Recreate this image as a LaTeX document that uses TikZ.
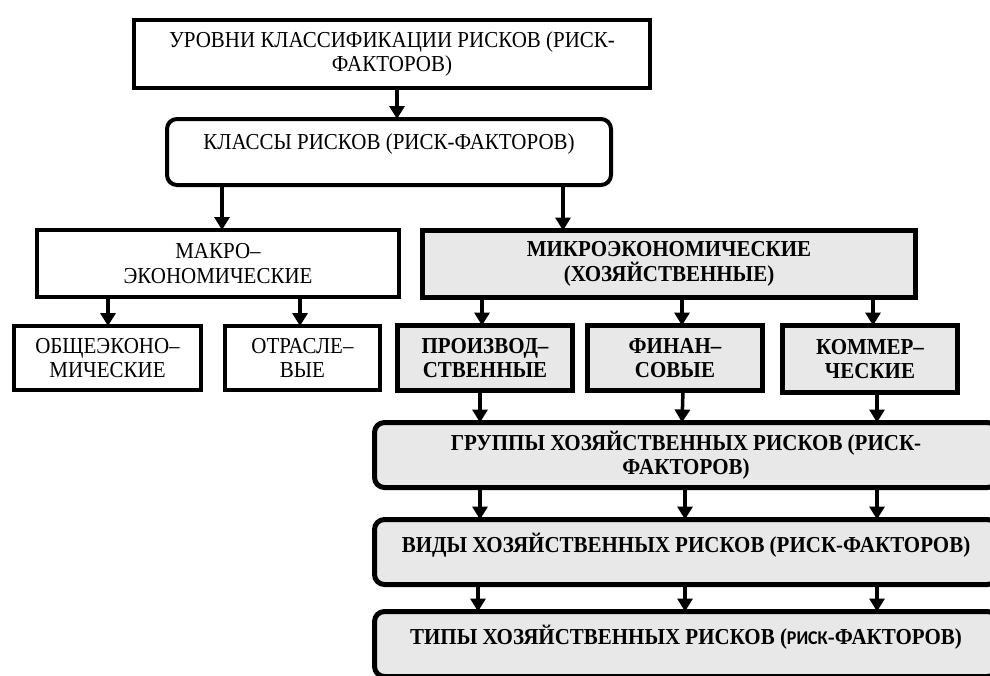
\documentclass[tikz,border=0pt]{standalone}
\usepackage{fontspec}
\setmainfont{Liberation Serif}[FakeStretch=0.92]
\newfontfamily\sansb{Carlito}[FakeStretch=0.92]
\usetikzlibrary{arrows.meta}
\definecolor{lightg}{RGB}{232,232,232}
\newcommand{\fsz}{\fontsize{22.8}{24.5}\selectfont}
\tikzset{
  box/.style={draw, line width=4pt, inner sep=0pt, outer sep=0pt, align=center, font=\fsz},
  gbox/.style={box, line width=5pt, fill=lightg, font=\fsz\bfseries},
  rbox/.style={rounded corners=10pt},
  arr/.style={line width=3.5pt, -{Triangle[length=13pt,width=15pt]}},
}
\begin{document}
\begin{tikzpicture}[x=1pt,y=-1pt]
\useasboundingbox (0,0) rectangle (990,675);
\clip (0,0) rectangle (990,675);
\fill[white] (0,0) rectangle (990,675);

\node[box, minimum width=516pt, minimum height=68pt] (b1) at (392,54)
  {УРОВНИ КЛАССИФИКАЦИИ РИСКОВ (РИСК-\\ФАКТОРОВ)};
\node[box, rbox, minimum width=444pt, minimum height=66pt, text height=16pt, text depth=22pt] (b2) at (389,152)
  {КЛАССЫ РИСКОВ (РИСК-ФАКТОРОВ)};
\node[box, minimum width=362pt, minimum height=67pt] (mak) at (218,263.5)
  {МАКРО–\\ЭКОНОМИЧЕСКИЕ};
\node[gbox, minimum width=493pt, minimum height=67pt] (mik) at (669,264)
  {МИКРОЭКОНОМИЧЕСКИЕ\\(ХОЗЯЙСТВЕННЫЕ)};
\node[box, minimum width=187pt, minimum height=64pt] (b5) at (107.5,358)
  {ОБЩЕЭКОНО–\\МИЧЕСКИЕ};
\node[box, minimum width=155pt, minimum height=64pt] (b6) at (302.5,358)
  {ОТРАСЛЕ–\\ВЫЕ};
\node[gbox, minimum width=175pt, minimum height=65pt] (p1) at (485,358)
  {ПРОИЗВОД–\\СТВЕННЫЕ};
\node[gbox, minimum width=175pt, minimum height=65pt] (f1) at (675,358)
  {ФИНАН–\\СОВЫЕ};
\node[gbox, minimum width=175pt, minimum height=67pt] (k1) at (870,359)
  {КОММЕР–\\ЧЕСКИЕ};
\node[gbox, rbox, minimum width=623pt, minimum height=65pt] (grp) at (686,455)
  {ГРУППЫ ХОЗЯЙСТВЕННЫХ РИСКОВ (РИСК-\\ФАКТОРОВ)};
\node[gbox, rbox, minimum width=623pt, minimum height=65pt, text height=16pt, text depth=16pt] (vid) at (686,552)
  {ВИДЫ ХОЗЯЙСТВЕННЫХ РИСКОВ (РИСК-ФАКТОРОВ)};
\node[gbox, rbox, minimum width=623pt, minimum height=65pt, text height=16pt, text depth=16pt] (tip) at (686,644)
  {ТИПЫ ХОЗЯЙСТВЕННЫХ РИСКОВ ({\sansb\fontsize{19.5}{20}\selectfont РИСК}-ФАКТОРОВ)};

\draw[arr] (b1.south -| 397,0) -- (b2.north -| 397,0);
\draw[arr] (b2.south -| 222,0) -- (mak.north -| 222,0);
\draw[arr] (b2.south -| 563,0) -- (mik.north -| 563,0);
\draw[arr] (mak.south -| 108,0) -- (b5.north -| 108,0);
\draw[arr] (mak.south -| 300,0) -- (b6.north -| 300,0);
\draw[arr] (mik.south -| 482,0) -- (p1.north -| 482,0);
\draw[arr] (mik.south -| 682,0) -- (f1.north -| 682,0);
\draw[arr] (mik.south -| 873,0) -- (k1.north -| 873,0);
\draw[arr] (p1.south -| 480,0) -- (grp.north -| 480,0);
\draw[arr] (f1.south -| 683,0) -- (grp.north -| 682,0);
\draw[arr] (k1.south -| 877,0) -- (grp.north -| 877,0);
\draw[arr] (grp.south -| 480,0) -- (vid.north -| 480,0);
\draw[arr] (grp.south -| 685,0) -- (vid.north -| 685,0);
\draw[arr] (grp.south -| 877,0) -- (vid.north -| 877,0);
\draw[arr] (vid.south -| 478,0) -- (tip.north -| 478,0);
\draw[arr] (vid.south -| 685,0) -- (tip.north -| 685,0);
\draw[arr] (vid.south -| 877,0) -- (tip.north -| 877,0);
\end{tikzpicture}
\end{document}
